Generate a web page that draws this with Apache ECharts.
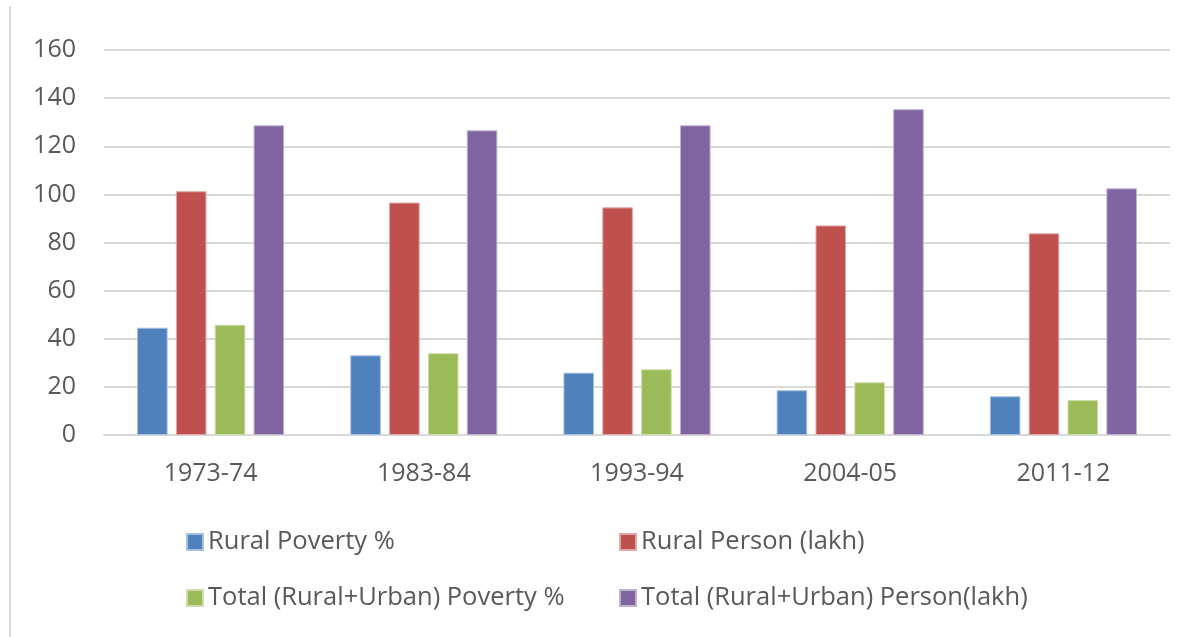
<!DOCTYPE html>
<html>
<head>
<meta charset="utf-8">
<script src="https://cdn.jsdelivr.net/npm/echarts@6/dist/echarts.min.js"></script>
<style>
html,body{margin:0;padding:0;background:#fff;}
#chart{width:1203px;height:637px;}
</style>
</head>
<body>
<div id="chart"></div>
<script>
var categories = ['1973-74', '1983-84', '1993-94', '2004-05', '2011-12'];
var ruralPoverty = [44.6, 33.1, 25.9, 18.6, 16.1];
var ruralPerson = [101.3, 96.6, 94.6, 87.1, 83.8];
var totalPoverty = [45.8, 34.0, 27.3, 21.9, 14.5];
var totalPerson = [128.7, 126.6, 128.7, 135.4, 102.5];
var yTicks = { min: 0, max: 160, interval: 20 };

var names = ['Rural Poverty %', 'Rural Person (lakh)', 'Total (Rural+Urban) Poverty %', 'Total (Rural+Urban) Person(lakh)'];
var colors = ['#4f81bd', '#c0504d', '#9bbb59', '#8064a2'];
var borders = ['#a7c0de', '#dfa8a6', '#cddda9', '#bfb1d0'];
var values = [ruralPoverty, ruralPerson, totalPoverty, totalPerson];

var font = 'Open Sans';
var textColor = '#595959';

var chart = echarts.init(document.getElementById('chart'), null, { renderer: 'canvas' });
var legendText = { color: textColor, fontSize: 25.5, fontFamily: font, lineHeight: 26 };
chart.setOption({
  animation: false,
  backgroundColor: '#ffffff',
  graphic: [{
    type: 'line',
    shape: { x1: 10, y1: 6, x2: 10, y2: 637 },
    style: { stroke: '#d9d9d9', lineWidth: 2 }
  }],
  grid: { left: 104, right: 33, top: 50, bottom: 202, containLabel: false },
  legend: [{
    orient: 'vertical',
    left: 181, top: 524,
    itemWidth: 16, itemHeight: 16, itemGap: 30,
    icon: 'rect',
    data: [names[0], names[2]],
    textStyle: legendText
  }, {
    orient: 'vertical',
    left: 614, top: 524,
    itemWidth: 16, itemHeight: 16, itemGap: 30,
    icon: 'rect',
    data: [names[1], names[3]],
    textStyle: legendText
  }],
  xAxis: {
    type: 'category',
    data: categories,
    axisLine: { show: true, lineStyle: { color: '#d9d9d9', width: 2 } },
    axisTick: { show: false },
    axisLabel: { color: textColor, fontSize: 25, fontFamily: font, margin: 26 }
  },
  yAxis: {
    type: 'value',
    min: yTicks.min, max: yTicks.max, interval: yTicks.interval,
    axisLine: { show: false },
    axisTick: { show: false },
    splitLine: { lineStyle: { color: '#d9d9d9', width: 2 } },
    axisLabel: { color: textColor, fontSize: 25, fontFamily: font, margin: 28 }
  },
  series: values.map(function (v, i) {
    return {
      name: names[i],
      type: 'bar',
      data: v,
      barGap: '27%',
      barCategoryGap: '31%',
      itemStyle: { color: colors[i], borderColor: borders[i], borderWidth: 1 }
    };
  })
});
</script>
</body>
</html>
